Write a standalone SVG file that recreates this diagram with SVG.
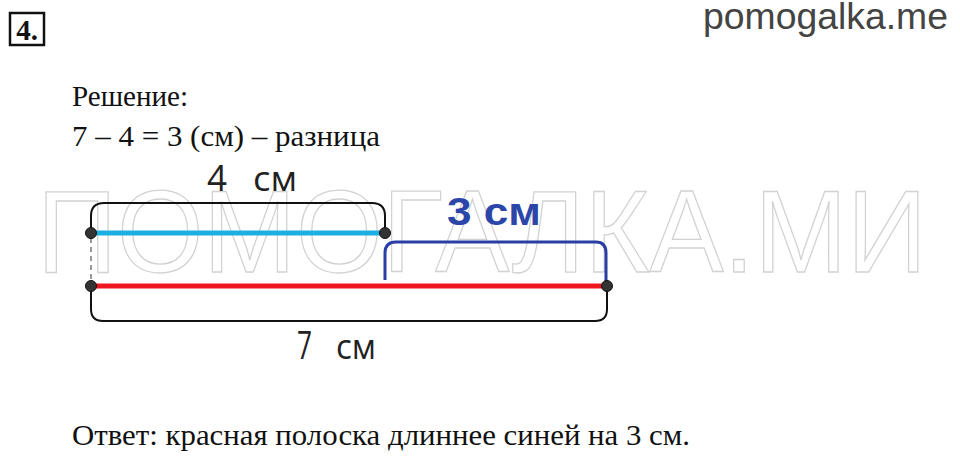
<svg xmlns="http://www.w3.org/2000/svg" width="960" height="463" viewBox="0 0 960 463">
<style>
.serif{font-family:"Liberation Serif","DejaVu Serif",serif;fill:#111}
.sans{font-family:"Open Sans","Liberation Sans",sans-serif;fill:#222}
.dot{fill:#333;stroke:#111;stroke-width:1}
.br{fill:none;stroke:#111;stroke-width:2}
</style>
<rect width="960" height="463" fill="#fff"/>
<g id="watermark">
<text x="37" y="272" font-family="Liberation Sans, sans-serif" font-size="117" textLength="890" lengthAdjust="spacingAndGlyphs" fill="none" stroke="#d2d2d2" stroke-width="1.3">ПОМОГАЛКА.МИ</text>
</g>
<g id="header">
<rect x="10" y="13" width="34" height="32" fill="#fff" stroke="#111" stroke-width="2.5"/>
<text x="27" y="40" class="serif" font-size="29" font-weight="bold" text-anchor="middle">4.</text>
<text x="948" y="29" font-family="Liberation Sans, sans-serif" font-size="37" fill="#444" text-anchor="end" textLength="245" lengthAdjust="spacingAndGlyphs">pomogalka.me</text>
</g>
<g id="solution">
<text x="72" y="106" class="serif" font-size="30" textLength="116" lengthAdjust="spacingAndGlyphs">Решение:</text>
<text x="72" y="146" class="serif" font-size="30" textLength="308" lengthAdjust="spacingAndGlyphs">7 – 4 = 3 (см) – разница</text>
</g>
<g id="connectors">
<path class="br" d="M91,233 V216 Q91,203 104,203 H372 Q385,203 385,216 V233"/>
<path fill="none" stroke="#2a3fa6" stroke-width="3" d="M385,280 V253 Q385,242 396,242 H596 Q606,242 606,253 V286"/>
<path class="br" d="M91,286 V309 Q91,321 103,321 H595 Q607,321 607,309 V286"/>
<line x1="91" y1="238" x2="91" y2="281" stroke="#777" stroke-width="1.5" stroke-dasharray="5,4"/>
</g>
<g id="blue-strip">
<line x1="91" y1="233" x2="385" y2="233" stroke="#1cb0e2" stroke-width="5"/>
<circle class="dot" cx="91" cy="233" r="5.5"/>
<circle class="dot" cx="385" cy="233" r="5.5"/>
</g>
<g id="red-strip">
<line x1="91" y1="286" x2="607" y2="286" stroke="#ee1620" stroke-width="5"/>
<circle class="dot" cx="91" cy="286" r="5.5"/>
<circle class="dot" cx="607" cy="286" r="5.5"/>
</g>
<g id="labels">
<text x="207" y="191" class="sans" font-size="36" textLength="20" lengthAdjust="spacingAndGlyphs">4</text>
<text x="253" y="191" class="sans" font-size="35" textLength="44" lengthAdjust="spacingAndGlyphs">см</text>
<text x="447" y="225" font-family="Liberation Sans, sans-serif" font-weight="bold" font-size="38" fill="#2b45a8" textLength="94" lengthAdjust="spacingAndGlyphs">3 см</text>
<text x="297" y="359" class="sans" font-size="38" textLength="15" lengthAdjust="spacingAndGlyphs">7</text>
<text x="336" y="359" class="sans" font-size="35" textLength="40" lengthAdjust="spacingAndGlyphs">см</text>
</g>
<g id="answer">
<text x="72" y="445" class="serif" font-size="30" textLength="618" lengthAdjust="spacingAndGlyphs">Ответ: красная полоска длиннее синей на 3 см.</text>
</g>
</svg>
